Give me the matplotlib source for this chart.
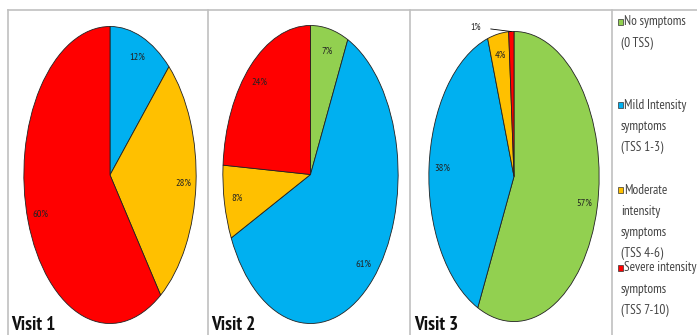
import matplotlib
matplotlib.use("Agg")
import matplotlib.pyplot as plt
from matplotlib import font_manager
from matplotlib.lines import Line2D
from matplotlib.patches import Rectangle
import numpy as np

categories = ["No symptoms\n(0 TSS)", "Mild Intensity\nsymptoms\n(TSS 1-3)",
              "Moderate\nintensity\nsymptoms\n(TSS 4-6)", "Severe intensity\nsymptoms\n(TSS 7-10)"]
colors = ["#92D050", "#00B0F0", "#FFC000", "#FF0000"]
visit_titles = ["Visit 1", "Visit 2", "Visit 3"]
visit1 = [0, 12, 28, 60]
visit2 = [7, 61, 8, 24]
visit3 = [57, 38, 4, 1]
visits = [visit1, visit2, visit3]

names = {f.name for f in font_manager.fontManager.ttflist}
FONT = "PT Sans Narrow" if "PT Sans Narrow" in names else "Carlito"

W, H = 697, 335
fig = plt.figure(figsize=(W / 100, H / 100), dpi=100)
fig.patch.set_facecolor("white")

def fx(px):
    return px / W

def fy(py):
    return 1 - py / H

# panel frame lines
gray = "#c0c0c0"
fig.add_artist(Line2D([fx(8), fx(697)], [fy(10), fy(10)], color=gray, lw=1.2))
for xv in [8, 208, 410, 612]:
    fig.add_artist(Line2D([fx(xv), fx(xv)], [fy(10), fy(335)], color=gray, lw=1.2))

# pie boxes (left, right, top, bottom) in pixels
boxes = [(23, 197, 25, 325), (222, 399, 24, 325), (428, 600, 30, 323)]
title_x = [11, 211, 414]

for vals, box, title, tx in zip(visits, boxes, visit_titles, title_x):
    l, r, t, b = box
    ax = fig.add_axes([fx(l), fy(b), fx(r - l), (b - t) / H])
    wedges, _ = ax.pie(vals, colors=colors, startangle=90, counterclock=False,
                       wedgeprops=dict(edgecolor="#222222", linewidth=0.6))
    ax.set_aspect("auto")
    ax.set_xlim(-1.01, 1.01)
    ax.set_ylim(-1.01, 1.01)
    ax.axis("off")
    for w, v in zip(wedges, vals):
        if v <= 0:
            continue
        ang = np.deg2rad((w.theta1 + w.theta2) / 2)
        if v < 2:
            ax.annotate(f"{v}%", xy=(np.cos(ang), np.sin(ang)),
                        xytext=(-0.45, 1.03), fontsize=7, family=FONT,
                        ha="center", va="center", annotation_clip=False,
                        color="#222222",
                        arrowprops=dict(arrowstyle="-", color="black", lw=0.6,
                                        shrinkA=5, shrinkB=0))
        else:
            d = 0.85
            ax.text(d * np.cos(ang), d * np.sin(ang), f"{v}%", fontsize=7.5,
                    family=FONT, ha="center", va="center", color="#222222")
    fig.text(fx(tx), fy(330), title, fontsize=14, fontweight="bold",
             family=FONT, ha="left", va="baseline", color="#111111")

# legend
line_h = 21.3
starts = [22, 105, 190, 268]
for cat, col, y0 in zip(categories, colors, starts):
    lines = cat.split("\n")
    fig.add_artist(Rectangle((fx(618), fy(y0 + 3)), fx(5), 6 / H,
                             facecolor=col, edgecolor="#333333", lw=0.5))
    for i, ln in enumerate(lines):
        xx = 624 if i == 0 else 621
        fig.text(fx(xx), fy(y0 + i * line_h), ln, fontsize=9.5, family=FONT,
                 ha="left", va="center", color="#444444")

fig.savefig("out.png", dpi=100, facecolor="white")
